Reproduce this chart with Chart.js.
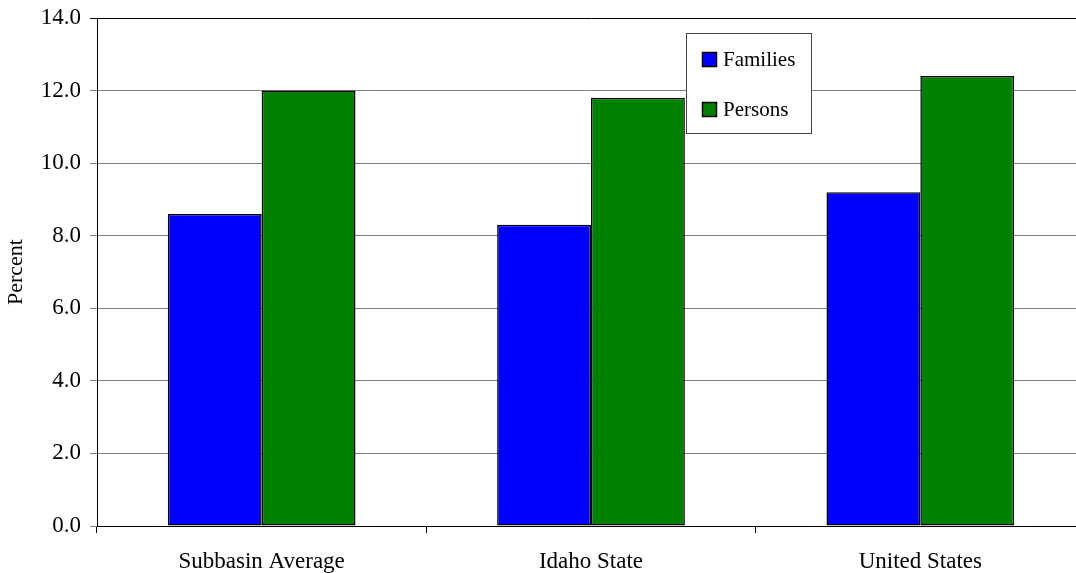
<!DOCTYPE html>
<html>
<head>
<meta charset="utf-8">
<script src="https://cdn.jsdelivr.net/npm/chart.js@4/dist/chart.umd.min.js"></script>
<style>
  html, body { margin: 0; padding: 0; background: #fff; overflow: hidden; }
  #wrap { width: 1090px; height: 573px; }
</style>
</head>
<body>
<div id="wrap"><canvas id="povertyChart"></canvas></div>
<script>
const categories = ["Subbasin Average", "Idaho State", "United States"];
const families = [8.6, 8.3, 9.2];
const persons = [12.0, 11.8, 12.4];
const seriesNames = ["Families", "Persons"];

const FONT = "'Liberation Serif', 'Times New Roman', serif";

// boxed legend drawn inside the plot area, upper middle-right
const boxLegend = {
  id: "boxLegend",
  afterDraw(chart) {
    const ctx = chart.ctx;
    const x = 686, y = 33, w = 125, h = 100;
    ctx.save();
    ctx.fillStyle = "#fff";
    ctx.fillRect(x, y, w, h);
    ctx.strokeStyle = "#444";
    ctx.lineWidth = 1;
    ctx.strokeRect(x + 0.5, y + 0.5, w, h);
    ctx.font = "21px " + FONT;
    ctx.textBaseline = "middle";
    chart.data.datasets.forEach((ds, i) => {
      const cy = y + 26 + i * 50;
      ctx.fillStyle = ds.backgroundColor;
      ctx.fillRect(x + 16, cy - 7, 15, 15);
      ctx.strokeStyle = "#000";
      ctx.lineWidth = 1.5;
      ctx.strokeRect(x + 16.5, cy - 6.5, 14, 14);
      ctx.fillStyle = "#000";
      ctx.fillText(ds.label, x + 37, cy + 1);
    });
    ctx.restore();
  }
};

new Chart(document.getElementById("povertyChart"), {
  type: "bar",
  data: {
    labels: categories,
    datasets: [
      {
        label: seriesNames[0],
        data: families,
        backgroundColor: "#0000ff",
        borderColor: "#000",
        borderWidth: 1.5,
        borderSkipped: false,
      },
      {
        label: seriesNames[1],
        data: persons,
        backgroundColor: "#008000",
        borderColor: "#000",
        borderWidth: 1.5,
        borderSkipped: false,
      },
    ],
  },
  options: {
    responsive: true,
    maintainAspectRatio: false,
    animation: false,
    layout: { padding: { top: 18, right: 5, left: 0, bottom: 0 } },
    datasets: { bar: { categoryPercentage: 0.57, barPercentage: 1.0 } },
    plugins: {
      legend: { display: false },
      tooltip: { enabled: false },
    },
    scales: {
      x: {
        grid: {
          offset: true,
          drawOnChartArea: false,
          tickLength: 7,
          color: "#000",
        },
        border: { color: "#000", width: 1 },
        ticks: {
          color: "#000",
          font: { family: FONT, size: 23 },
          padding: 15,
        },
        afterFit(scale) { scale.height = 47; },
      },
      y: {
        min: 0,
        max: 14,
        ticks: {
          stepSize: 2,
          color: "#000",
          font: { family: FONT, size: 23 },
          padding: 9,
          callback: (v) => v.toFixed(1),
        },
        grid: {
          tickLength: 7,
          color: (c) => (c.tick && c.tick.value === 14 ? "#000" : "#808080"),
        },
        border: { color: "#000", width: 1 },
        title: {
          display: true,
          text: "Percent",
          color: "#000",
          font: { family: FONT, size: 22 },
          padding: { top: 3, bottom: 0 },
        },
        afterFit(scale) {
          scale.width = 97;
          // let the top tick label overhang the padding instead of pushing the plot down
          scale.paddingTop = 0;
          scale.paddingBottom = 0;
        },
      },
    },
  },
  plugins: [boxLegend],
});
</script>
</body>
</html>
